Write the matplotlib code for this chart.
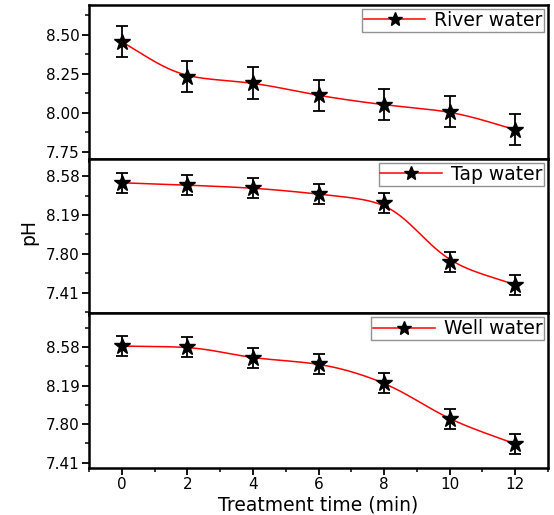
import numpy as np
import matplotlib
matplotlib.use("Agg")
import matplotlib.pyplot as plt
from matplotlib.ticker import MultipleLocator, FixedLocator

plt.rcParams['font.family'] = ['DejaVu Sans']

time = [0, 2, 4, 6, 8, 10, 12]
river = [8.455, 8.23, 8.19, 8.11, 8.05, 8.005, 7.89]
tap = [8.514, 8.49, 8.46, 8.40, 8.31, 7.72, 7.49]
well = [8.59, 8.58, 8.47, 8.41, 8.22, 7.85, 7.60]
err = [0.1] * 7
labels = ["River water", "Tap water", "Well water"]
yticks = [[7.75, 8.00, 8.25, 8.50], [7.41, 7.80, 8.19, 8.58], [7.41, 7.80, 8.19, 8.58]]
ylims = [(7.70, 8.69), (7.20, 8.75), (7.36, 8.92)]


def pchip_curve(x, y, n=400, smooth_sigma=0.5):
    x = np.asarray(x, float)
    y = np.asarray(y, float)
    h = np.diff(x)
    d = np.diff(y) / h
    k = len(x)
    m = np.zeros(k)
    for i in range(1, k - 1):
        if d[i - 1] * d[i] <= 0:
            m[i] = 0
        else:
            w1 = 2 * h[i] + h[i - 1]
            w2 = h[i] + 2 * h[i - 1]
            m[i] = (w1 + w2) / (w1 / d[i - 1] + w2 / d[i])
    m[0] = d[0]
    m[-1] = d[-1]
    xs = np.linspace(x[0], x[-1], n)
    idx = np.clip(np.searchsorted(x, xs) - 1, 0, k - 2)
    hi = h[idx]
    t = (xs - x[idx]) / hi
    h00 = 2 * t**3 - 3 * t**2 + 1
    h10 = t**3 - 2 * t**2 + t
    h01 = -2 * t**3 + 3 * t**2
    h11 = t**3 - t**2
    ys = h00 * y[idx] + h10 * hi * m[idx] + h01 * y[idx + 1] + h11 * hi * m[idx + 1]
    dx = xs[1] - xs[0]
    r = int(3 * smooth_sigma / dx)
    kern = np.exp(-0.5 * (np.arange(-r, r + 1) * dx / smooth_sigma) ** 2)
    kern /= kern.sum()
    left = 2 * ys[0] - ys[1:r + 1][::-1]
    right = 2 * ys[-1] - ys[-r - 1:-1][::-1]
    ext = np.concatenate([left, ys, right])
    ys_s = np.convolve(ext, kern, mode='valid')
    return xs, ys_s


fig = plt.figure(figsize=(5.54, 5.15), dpi=100)
axes = fig.subplots(3, 1, sharex=True)
fig.subplots_adjust(left=0.161, right=0.989, bottom=0.092, top=0.990, hspace=0)

for ax, data, lab, yt, yl in zip(axes, [river, tap, well], labels, yticks, ylims):
    sx, sy = pchip_curve(time, data)
    ax.plot(sx, sy, color='red', lw=1.1, zorder=2)
    ax.errorbar(time, data, yerr=err, fmt='none', ecolor='black', elinewidth=1.3,
                capsize=4, capthick=1.3, zorder=3)
    ax.plot(time, data, linestyle='none', marker='*', color='black', ms=12, zorder=4)
    ax.plot([], [], color='red', lw=1.1, marker='*', mfc='black', mec='black', ms=10, label=lab)
    leg = ax.legend(loc='upper right', fontsize=13.5, frameon=True, fancybox=False,
                    borderaxespad=0.2, handlelength=3.3, handletextpad=0.45,
                    borderpad=0.1, edgecolor='#777777')
    leg.get_frame().set_linewidth(1.0)
    ax.set_ylim(*yl)
    ax.set_yticks(yt)
    ax.set_yticklabels([f"{v:.2f}" for v in yt])
    step = yt[1] - yt[0]
    ax.yaxis.set_minor_locator(FixedLocator([v + step / 2 for v in [yt[0] - step] + yt]))
    ax.set_xlim(-1, 13)
    ax.xaxis.set_major_locator(MultipleLocator(2))
    ax.xaxis.set_minor_locator(MultipleLocator(1))
    ax.tick_params(which='major', direction='out', length=5, width=1.3, labelsize=11, pad=2)
    ax.tick_params(which='minor', direction='out', length=3, width=1.1)
    for s in ax.spines.values():
        s.set_linewidth(1.8)

axes[-1].set_xticks(time)
axes[-1].set_xlabel("Treatment time (min)", fontsize=13.5, labelpad=2)
fig.text(0.052, 0.55, "pH", rotation=90, fontsize=13.5, ha='center', va='center')

fig.savefig("out.png", dpi=100)
